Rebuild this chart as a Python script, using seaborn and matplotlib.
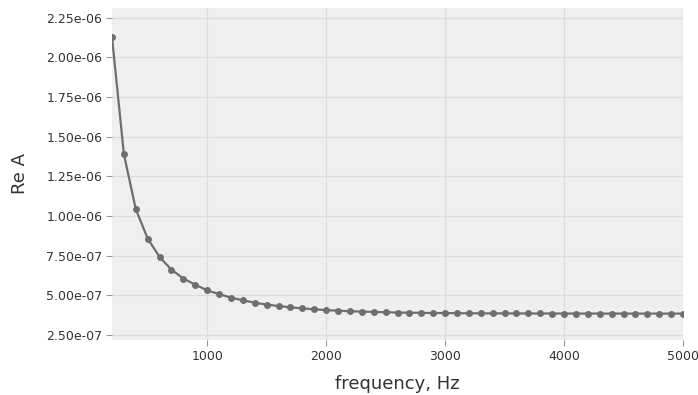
import numpy as np
import pandas as pd
import seaborn as sns
import matplotlib
matplotlib.use("Agg")
import matplotlib.pyplot as plt
from matplotlib.ticker import FuncFormatter

frequency = list(range(200, 5001, 100))
re_a = [2.127e-06, 1.389e-06, 1.042e-06, 8.57e-07, 7.41e-07, 6.61e-07, 6.05e-07, 5.67e-07,
        5.31e-07, 5.07e-07, 4.85e-07, 4.68e-07, 4.53e-07, 4.41e-07, 4.32e-07, 4.24e-07,
        4.17e-07, 4.12e-07, 4.06e-07, 4.03e-07, 3.99e-07, 3.97e-07, 3.95e-07, 3.93e-07,
        3.91e-07, 3.90e-07, 3.89e-07, 3.88e-07, 3.875e-07, 3.87e-07, 3.865e-07, 3.86e-07,
        3.857e-07, 3.855e-07, 3.853e-07, 3.851e-07, 3.85e-07, 3.849e-07, 3.848e-07, 3.847e-07,
        3.846e-07, 3.845e-07, 3.845e-07, 3.844e-07, 3.844e-07, 3.843e-07, 3.843e-07, 3.842e-07,
        3.842e-07]
x_ticks = [1000, 2000, 3000, 4000, 5000]
y_ticks = [2.5e-07, 5.0e-07, 7.5e-07, 1.0e-06, 1.25e-06, 1.5e-06, 1.75e-06, 2.0e-06, 2.25e-06]

df = pd.DataFrame({"frequency": frequency, "re_a": re_a})

sns.set_theme(style="whitegrid")
plt.rcParams['font.family'] = ['DejaVu Sans']

fig = plt.figure(figsize=(6.98, 3.95), dpi=100)
ax = fig.add_axes([112/698, 1 - 340/395, (683-112)/698, (340-8)/395])
ax.set_facecolor("#efefef")

sns.lineplot(data=df, x="frequency", y="re_a", ax=ax, color="#6e6e6e",
             marker="o", markersize=5, markeredgewidth=0, linewidth=1.6)

ax.set_xlim(200, 5000)
ax.set_ylim(2.18e-07, 2.31e-06)
ax.set_xticks(x_ticks)
ax.set_yticks(y_ticks)
ax.yaxis.set_major_formatter(FuncFormatter(lambda v, p: f"{v:.2e}"))
ax.grid(True, color="#dcdce2", linewidth=0.9)
for s in ax.spines.values():
    s.set_visible(False)
ax.tick_params(axis="both", which="major", length=4, width=0.8, color="#999999",
               labelsize=9, labelcolor="#333333", direction="out", pad=3)
ax.tick_params(bottom=True, left=True)
ax.set_xlabel("frequency, Hz", fontsize=13, color="#333333", labelpad=9)
ax.set_ylabel("Re A", fontsize=13, color="#333333", labelpad=12)

fig.savefig("out.png", dpi=100, facecolor="white")
